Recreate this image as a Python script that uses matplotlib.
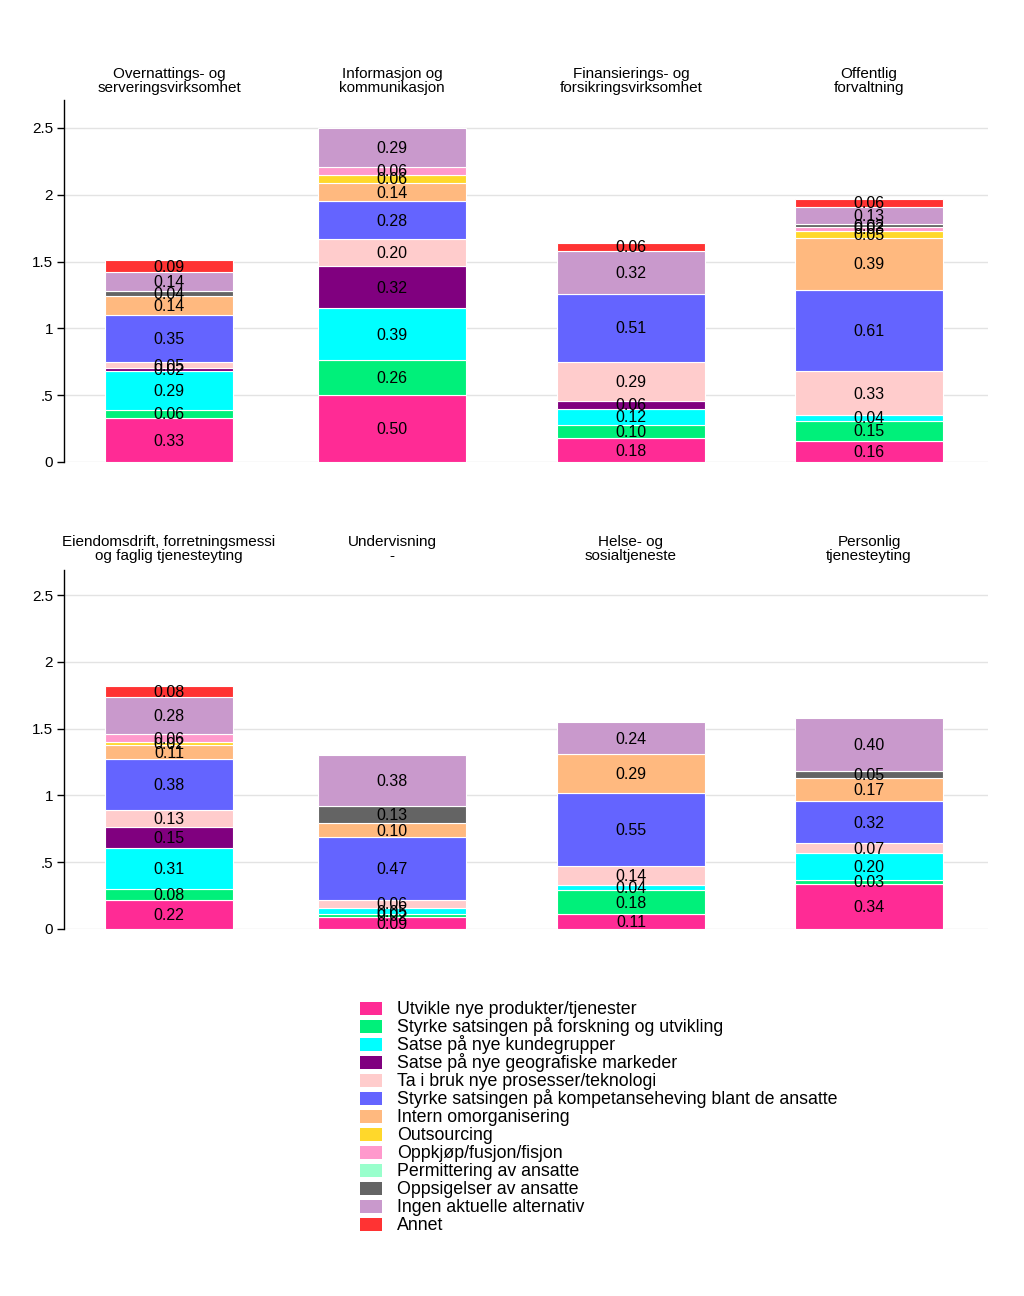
import matplotlib
matplotlib.use("Agg")
import matplotlib.pyplot as plt
from matplotlib.patches import Rectangle

plt.rcParams['font.family'] = ['Liberation Sans', 'DejaVu Sans']

# Kategorier (rekkefølge nedenfra og opp i stablene)
serier = [
    "Utvikle nye produkter/tjenester",
    "Styrke satsingen på forskning og utvikling",
    "Satse på nye kundegrupper",
    "Satse på nye geografiske markeder",
    "Ta i bruk nye prosesser/teknologi",
    "Styrke satsingen på kompetanseheving blant de ansatte",
    "Intern omorganisering",
    "Outsourcing",
    "Oppkjøp/fusjon/fisjon",
    "Permittering av ansatte",
    "Oppsigelser av ansatte",
    "Ingen aktuelle alternativ",
    "Annet",
]
farger = ["#ff2b95", "#00f07a", "#00ffff", "#80007f", "#ffcccc", "#6464ff",
          "#ffb97f", "#ffd82b", "#ff99cc", "#99ffcc", "#646464", "#c999cc", "#ff3333"]

naringer_topp = ["Overnattings- og\nserveringsvirksomhet", "Informasjon og\nkommunikasjon",
                 "Finansierings- og\nforsikringsvirksomhet", "Offentlig\nforvaltning"]
naringer_bunn = ["Eiendomsdrift, forretningsmessi\nog faglig tjenesteyting", "Undervisning\n-",
                 "Helse- og\nsosialtjeneste", "Personlig\ntjenesteyting"]

# verdier per næring, i samme rekkefølge som serier
overnatting   = [0.33, 0.06, 0.29, 0.02, 0.05, 0.35, 0.14, 0, 0, 0, 0.04, 0.14, 0.09]
informasjon   = [0.50, 0.26, 0.39, 0.32, 0.20, 0.28, 0.14, 0.06, 0.06, 0, 0, 0.29, 0]
finansiering  = [0.18, 0.10, 0.12, 0.06, 0.29, 0.51, 0, 0, 0, 0, 0, 0.32, 0.06]
offentlig     = [0.16, 0.15, 0.04, 0, 0.33, 0.61, 0.39, 0.05, 0.03, 0, 0.02, 0.13, 0.06]
eiendomsdrift = [0.22, 0.08, 0.31, 0.15, 0.13, 0.38, 0.11, 0.02, 0.06, 0, 0, 0.28, 0.08]
undervisning  = [0.09, 0.02, 0.05, 0, 0.06, 0.47, 0.10, 0, 0, 0, 0.13, 0.38, 0]
helse         = [0.11, 0.18, 0.04, 0, 0.14, 0.55, 0.29, 0, 0, 0, 0, 0.24, 0]
personlig     = [0.34, 0.03, 0.20, 0, 0.07, 0.32, 0.17, 0, 0, 0, 0.05, 0.40, 0]

W, H = 1024, 1296
fig = plt.figure(figsize=(W / 100, H / 100), dpi=100)

# søyleplassering i piksler (x-akse går fra 64 til 988)
venstre = [105, 318, 557, 795]
hoyre = [233, 466, 705, 943]


def panel(topp_px, bunn_px, titler, data, tittel_px):
    ax = fig.add_axes([64 / W, 1 - bunn_px / H, (988 - 64) / W, (bunn_px - topp_px) / H])
    ymax = (bunn_px - topp_px) / 133.6
    ax.set_xlim(64, 988)
    ax.set_ylim(0, ymax)
    for i, verdier in enumerate(data):
        x = (venstre[i] + hoyre[i]) / 2
        w = hoyre[i] - venstre[i]
        bunn = 0
        for j, v in enumerate(verdier):
            if v <= 0:
                continue
            ax.bar(x, v, width=w, bottom=bunn, color=farger[j], edgecolor="white",
                   linewidth=0.8, zorder=2)
            ax.text(x, bunn + v / 2 - 0.008, f"{v:.2f}", ha="center", va="center",
                    fontsize=11.5, color="black", zorder=3)
            bunn += v
        ax.text(x, 1 + tittel_px / (bunn_px - topp_px), titler[i], transform=ax.get_xaxis_transform(),
                ha="center", va="center", fontsize=11, linespacing=1.0)
    ax.set_yticks([0, 0.5, 1, 1.5, 2, 2.5])
    ax.set_yticklabels(["0", ".5", "1", "1.5", "2", "2.5"], fontsize=11)
    ax.yaxis.grid(True, color="#e3e3e3", linewidth=1, zorder=0)
    ax.set_axisbelow(True)
    ax.set_xticks([])
    for s in ["top", "right", "bottom"]:
        ax.spines[s].set_visible(False)
    ax.spines["left"].set_linewidth(1)
    ax.tick_params(axis="y", length=5, width=1, pad=3)
    return ax


panel(100, 462, naringer_topp, [overnatting, informasjon, finansiering, offentlig], 19)
panel(570, 929, naringer_bunn, [eiendomsdrift, undervisning, helse, personlig], 21)

# forklaring
for k, (navn, f) in enumerate(zip(serier, farger)):
    yc = 1008 + 18 * k
    fig.add_artist(Rectangle((360 / W, 1 - (yc + 6.5) / H), 22 / W, 13 / H,
                             transform=fig.transFigure, facecolor=f, edgecolor="none"))
    fig.text(397 / W, 1 - (yc + 1) / H, navn, ha="left", va="center", fontsize=12.8)

fig.savefig("out.png", dpi=100, facecolor="white")
